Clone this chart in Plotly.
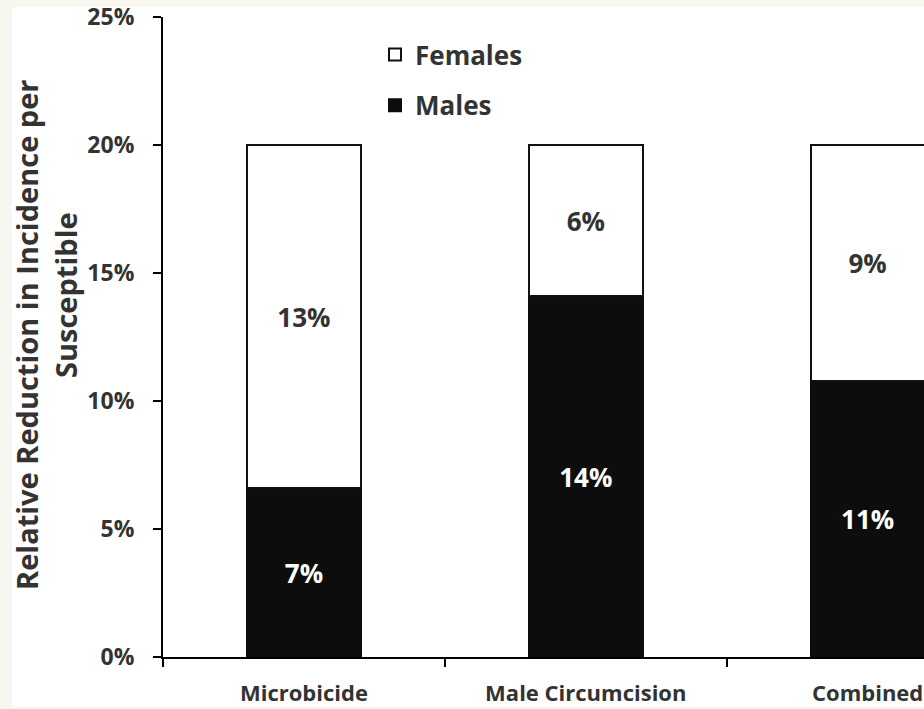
import plotly.graph_objects as go

# Relative reduction in incidence per susceptible, by intervention
categories = ["Microbicide", "Male Circumcision", "Combined"]
males = [6.6, 14.1, 10.8]
females = [13.4, 5.9, 9.2]
y_ticks = [0, 5, 10, 15, 20, 25]

FONT = "Open Sans"
W, H = 924, 709
L, R, T, B = 163, 0, 17, 52
plot_w = W - L - R
plot_h = H - T - B

fig = go.Figure()
fig.add_trace(go.Bar(
    name="Males", x=categories, y=males,
    marker=dict(color="#0d0d0d", line=dict(color="#0d0d0d", width=2)),
    text=[f"{round(v)}%" for v in males], textposition="inside",
    insidetextanchor="middle",
    textfont=dict(family=FONT, size=26, color="white", weight="bold"),
    legendgroup="m", legendrank=2, width=0.405,
))
fig.add_trace(go.Bar(
    name="Females", x=categories, y=females,
    marker=dict(color="white", line=dict(color="#111111", width=2)),
    text=[f"{round(v)}%" for v in females], textposition="inside",
    insidetextanchor="middle",
    textfont=dict(family=FONT, size=26, color="#333333", weight="bold"),
    legendgroup="f", legendrank=1, width=0.405,
))

# White chart panel on a cream page
def px_to_paper_x(px):
    return (px - L) / plot_w

def px_to_paper_y(py):
    return (H - B - py) / plot_h

fig.add_shape(type="rect", xref="paper", yref="paper", layer="below",
              x0=px_to_paper_x(12), x1=px_to_paper_x(930),
              y0=px_to_paper_y(707), y1=px_to_paper_y(7),
              fillcolor="white", line=dict(width=0))

# Two-line rotated y-axis title
title_font = dict(family=FONT, size=29, color="#333333", weight="bold")
fig.add_annotation(text="Relative Reduction in Incidence per", textangle=-90,
                   xref="paper", yref="paper", showarrow=False,
                   x=px_to_paper_x(26), y=px_to_paper_y(335),
                   xanchor="center", yanchor="middle", font=title_font)
fig.add_annotation(text="Susceptible", textangle=-90,
                   xref="paper", yref="paper", showarrow=False,
                   x=px_to_paper_x(65), y=px_to_paper_y(295),
                   xanchor="center", yanchor="middle", font=title_font)

fig.update_layout(
    width=W, height=H,
    margin=dict(l=L, r=R, t=T, b=B, autoexpand=False),
    barmode="stack",
    paper_bgcolor="#f7f7f0",
    plot_bgcolor="white",
    showlegend=True,
    legend=dict(x=px_to_paper_x(375), y=px_to_paper_y(31),
                xanchor="left", yanchor="top",
                traceorder="grouped", tracegroupgap=14,
                bgcolor="rgba(0,0,0,0)",
                font=dict(family=FONT, size=26, color="#333333", weight="bold")),
    xaxis=dict(
        range=[-0.5, 2.2], showline=True, linecolor="black", linewidth=2,
        ticks="outside", tickson="boundaries", ticklen=8, tickwidth=2,
        tickcolor="black", showgrid=False, ticklabelstandoff=16,
        automargin=False,
        tickfont=dict(family=FONT, size=22, color="#333333", weight="bold"),
    ),
    yaxis=dict(
        range=[0, 25], tickvals=y_ticks, ticktext=[f"{v}%" for v in y_ticks],
        showline=True, linecolor="black", linewidth=2,
        ticks="outside", ticklen=8, tickwidth=2, tickcolor="black",
        showgrid=False, zeroline=False, ticklabelstandoff=14,
        automargin=False,
        tickfont=dict(family=FONT, size=23, color="#333333", weight="bold"),
    ),
)

fig.write_html("out.html")
